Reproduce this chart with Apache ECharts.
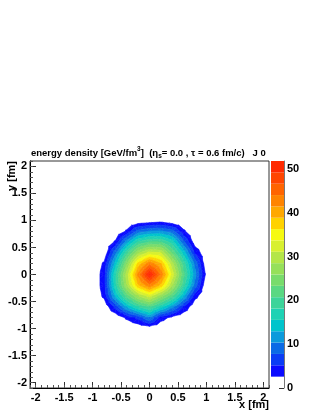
<!DOCTYPE html>
<html>
<head>
<meta charset="utf-8">
<script src="https://cdn.jsdelivr.net/npm/echarts@6/dist/echarts.min.js"></script>
<style>
  html, body { margin: 0; padding: 0; background: #fff; }
  #chart { width: 323px; height: 418px; }
</style>
</head>
<body>
<div id="chart"></div>
<script>
// grid nodes (fm), rows of density go from top (y = 1.0) to bottom (y = -1.0)
var xNodes = [-1.0, -0.8, -0.6, -0.4, -0.2, 0, 0.2, 0.4, 0.6, 0.8, 1.0];
var yNodes = [1.0, 0.8, 0.6, 0.4, 0.2, 0, -0.2, -0.4, -0.6, -0.8, -1.0];
var density = [
  [0, 0, 0, 0, 0, 0.6, 1.2, 0, 0, 0, 0],
  [0, 0, 0, 3.0, 8.9, 10.4, 10.7, 8.9, 3.1, 0, 0],
  [0, 0, 3.0, 11.7, 18.4, 20.8, 20.7, 16.8, 8.5, 0.9, 0],
  [0, 0, 9.6, 19.5, 28.0, 32.1, 31.1, 22.9, 14.6, 4.8, 0],
  [0, 3.1, 14.0, 25.7, 37.1, 43.1, 38.9, 29.4, 19.4, 9.7, 0.3],
  [0, 4.0, 17.5, 29.7, 42.0, 51.8, 43.3, 32.6, 21.4, 11.2, 1.7],
  [0, 4.0, 17.2, 28.4, 38.3, 43.1, 38.1, 28.8, 19.0, 9.4, 0],
  [0, 3.2, 13.3, 21.6, 28.3, 32.1, 26.9, 21.3, 13.2, 3.6, 0],
  [0, 0, 6.0, 13.0, 18.0, 20.8, 16.3, 11.2, 5.0, 0, 0],
  [0, 0, 0, 3.1, 6.0, 10.4, 3.9, 1.6, 0, 0, 0],
  [0, 0, 0, 0, 0, 0.6, 0, 0, 0, 0, 0]
];

var zMax = 51.8;
var nLevels = 20;
// colours of contour bands 1..19 (band 0 is left white)
var bandColors = [
  '#0a0aff', '#0a3cf5', '#0a6ae6', '#0a9adc', '#00c4cc', '#1ed2b4', '#3cd49a',
  '#5ad882', '#78dc6c', '#96e05a', '#b4e648', '#d8f030', '#f6fa10', '#ffd200',
  '#ffa800', '#ff8400', '#ff6400', '#ff4600', '#ff2a00'
];
var paletteTicks = [0, 10, 20, 30, 40, 50];
var axisTicks = [-2, -1.5, -1, -0.5, 0, 0.5, 1, 1.5, 2];

var minorTicks = [];
for (var m = -21; m <= 21; m++) minorTicks.push(m / 10);

var step = zMax / nLevels;
var font = 'Liberation Sans, Arial, Helvetica, sans-serif';

// keep the part of a polygon (points [x, y, value]) above / below a level
function clip(poly, level, above) {
  var out = [];
  for (var n = 0; n < poly.length; n++) {
    var a = poly[n], b = poly[(n + 1) % poly.length];
    var ina = above ? a[2] >= level : a[2] < level;
    var inb = above ? b[2] >= level : b[2] < level;
    if (ina) out.push(a);
    if (ina !== inb) {
      var t = (level - a[2]) / (b[2] - a[2]);
      out.push([a[0] + t * (b[0] - a[0]), a[1] + t * (b[1] - a[1]), level]);
    }
  }
  return out;
}

var cells = [];
for (var j = 0; j < yNodes.length - 1; j++) {
  for (var i = 0; i < xNodes.length - 1; i++) cells.push([i, j]);
}

function renderCell(params, api) {
  var i = api.value(0), j = api.value(1);
  var c = [
    [xNodes[i], yNodes[j], density[j][i]],
    [xNodes[i + 1], yNodes[j], density[j][i + 1]],
    [xNodes[i + 1], yNodes[j + 1], density[j + 1][i + 1]],
    [xNodes[i], yNodes[j + 1], density[j + 1][i]]
  ];
  var mid = [(c[0][0] + c[1][0]) / 2, (c[0][1] + c[3][1]) / 2,
             (c[0][2] + c[1][2] + c[2][2] + c[3][2]) / 4];
  var children = [];
  for (var t = 0; t < 4; t++) {
    var tri = [c[t], c[(t + 1) % 4], mid];
    for (var k = 1; k < nLevels; k++) {
      var poly = clip(tri, k * step, true);
      if (k < nLevels - 1) poly = clip(poly, (k + 1) * step, false);
      if (poly.length < 3) continue;
      children.push({
        type: 'polygon',
        shape: { points: poly.map(function (p) { return api.coord([p[0], p[1]]); }) },
        style: { fill: bandColors[k - 1], stroke: bandColors[k - 1], lineWidth: 0.6 }
      });
    }
  }
  return { type: 'group', children: children };
}

var bands = [];
for (var k = 1; k < nLevels; k++) bands.push([k]);

function renderBand(params, api) {
  var k = api.value(0);
  var p0 = api.coord([0, (k + 1) * step]);
  var p1 = api.coord([1, k * step]);
  return {
    type: 'rect',
    shape: { x: p0[0], y: p0[1], width: p1[0] - p0[0], height: p1[1] - p0[1] },
    style: { fill: bandColors[k - 1] }
  };
}

var labelStyle = { color: '#000', fontFamily: font, fontWeight: 'bold', fontSize: 11 };

var chart = echarts.init(document.getElementById('chart'));
chart.setOption({
  animation: false,
  grid: [
    { left: 30, top: 161, width: 239, height: 227, show: true, borderColor: '#333', borderWidth: 1 },
    { left: 271, top: 161, width: 13, height: 227 }
  ],
  xAxis: [
    {
      gridIndex: 0, type: 'value', min: -2.1, max: 2.1,
      axisLine: { onZero: false, lineStyle: { color: '#000' } },
      axisTick: { inside: true, length: 6, customValues: axisTicks, lineStyle: { color: '#333' } },
      axisLabel: Object.assign({ margin: 4, customValues: axisTicks }, labelStyle),
      splitLine: { show: false }
    },
    {
      gridIndex: 0, type: 'value', min: -2.1, max: 2.1, position: 'bottom',
      axisLine: { show: false, onZero: false },
      axisTick: { inside: true, length: 3, customValues: minorTicks, lineStyle: { color: '#555' } },
      axisLabel: { show: false },
      splitLine: { show: false }
    },
    {
      gridIndex: 1, type: 'value', min: 0, max: 1, show: false
    }
  ],
  yAxis: [
    {
      gridIndex: 0, type: 'value', min: -2.1, max: 2.1,
      axisLine: { onZero: false, lineStyle: { color: '#000' } },
      axisTick: { inside: true, length: 6, customValues: axisTicks, lineStyle: { color: '#333' } },
      axisLabel: Object.assign({ margin: 3, customValues: axisTicks }, labelStyle),
      splitLine: { show: false }
    },
    {
      gridIndex: 0, type: 'value', min: -2.1, max: 2.1, position: 'left',
      axisLine: { show: false, onZero: false },
      axisTick: { inside: true, length: 3, customValues: minorTicks, lineStyle: { color: '#555' } },
      axisLabel: { show: false },
      splitLine: { show: false }
    },
    {
      gridIndex: 1, type: 'value', min: 0, max: zMax, position: 'right',
      axisLine: { show: true, onZero: false, lineStyle: { color: '#777' } },
      axisTick: { inside: true, length: 5, customValues: paletteTicks, lineStyle: { color: '#333' } },
      axisLabel: Object.assign({ margin: 3, customValues: paletteTicks }, labelStyle),
      splitLine: { show: false }
    }
  ],
  series: [
    {
      type: 'custom', xAxisIndex: 0, yAxisIndex: 0, clip: true,
      renderItem: renderCell, data: cells, silent: true, z: 1
    },
    {
      type: 'custom', xAxisIndex: 2, yAxisIndex: 2,
      renderItem: renderBand, data: bands, silent: true, z: 1
    }
  ],
  graphic: [
    {
      type: 'text', left: 31, top: 146,
      style: {
        text: '{b|energy density [GeV/fm}{sup|3}{b|]  (η}{sub|s}{b|= 0.0 , τ = 0.6 fm/c)   J 0}',
        rich: {
          b: { fontFamily: font, fontWeight: 'bold', fontSize: 9.5, lineHeight: 14, fill: '#000' },
          sup: { fontFamily: font, fontWeight: 'bold', fontSize: 6.5, lineHeight: 7, verticalAlign: 'top', fill: '#000' },
          sub: { fontFamily: font, fontWeight: 'bold', fontSize: 6.5, lineHeight: 7, verticalAlign: 'bottom', fill: '#000' }
        }
      }
    },
    {
      type: 'text', x: 269, y: 405,
      style: { text: 'x [fm]', fontFamily: font, fontWeight: 'bold', fontSize: 11, fill: '#000', align: 'right', verticalAlign: 'middle' }
    },
    {
      type: 'text', x: 12, y: 161, rotation: Math.PI / 2,
      style: { text: 'y [fm]', fontFamily: font, fontWeight: 'bold', fontSize: 11, fill: '#000', align: 'right', verticalAlign: 'middle' }
    }
  ]
});
</script>
</body>
</html>
